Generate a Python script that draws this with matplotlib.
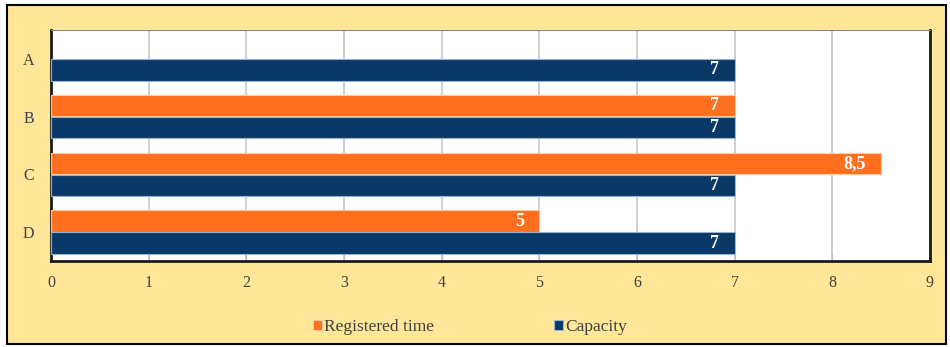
import numpy as np
import matplotlib.pyplot as plt
from matplotlib.patches import Rectangle

categories = ['A', 'B', 'C', 'D']
registered_time = [None, 7, 8.5, 5]
capacity = [7, 7, 7, 7]
x_ticks = list(range(0, 10))

ORANGE = '#FF6F1E'
NAVY = '#0A3967'
BG = '#FFE699'

plt.rcParams['font.family'] = ['Liberation Serif', 'DejaVu Serif']

fig = plt.figure(figsize=(9.5, 3.47), dpi=100)
fig.patch.set_facecolor('white')
# рамка и жёлтый фон
fig.patches.append(Rectangle((7 / 950, 3 / 347), 939 / 950, 339 / 347,
                             transform=fig.transFigure, facecolor=BG,
                             edgecolor='black', linewidth=1.5, zorder=-10))

ax = fig.add_axes([51 / 950, 1 - 261 / 347, 879 / 950, 231 / 347])
ax.set_zorder(5)
ax.set_facecolor('white')

y = np.arange(len(categories))
h = 0.37
off = 0.19

reg_y = [yy - off for yy, v in zip(y, registered_time) if v is not None]
reg_v = [v for v in registered_time if v is not None]
bars_r = ax.barh(reg_y, reg_v, height=h, color=ORANGE, edgecolor='#FFC8A0',
                 linewidth=0.8, label='Registered time', zorder=3)
bars_c = ax.barh(y + off, capacity, height=h, color=NAVY, edgecolor='#9DB3CC',
                 linewidth=0.8, label='Capacity', zorder=3)

def fmt(v):
    s = f'{v:g}'
    return s.replace('.', ',')

for yy, v in zip(reg_y, reg_v):
    ax.annotate(fmt(v), (v, yy), xytext=(-11, 0), textcoords='offset points',
                ha='right', va='center', color='white', fontweight='bold',
                fontsize=13)
for yy, v in zip(y + off, capacity):
    ax.annotate(fmt(v), (v, yy), xytext=(-11, 0), textcoords='offset points',
                ha='right', va='center', color='white', fontweight='bold',
                fontsize=13)

ax.set_xlim(0, 9)
ax.set_ylim(3.5, -0.5)
ax.set_xticks(x_ticks)
ax.set_yticks(y)
ax.set_yticklabels(categories)
ax.grid(axis='x', color='#C8C8C8', linewidth=1.2, zorder=0)
ax.tick_params(axis='x', direction='in', length=5, color='#BBBBBB',
               labelsize=11.5, labelcolor='#404040', pad=10)
ax.tick_params(axis='y', length=0, labelsize=11.5, labelcolor='#404040', pad=12)

for side in ['left', 'bottom', 'right']:
    ax.spines[side].set_color('#1A1A1A')
    ax.spines[side].set_linewidth(2)
ax.spines['top'].set_color('#888888')
ax.spines['top'].set_linewidth(0.8)

fig.legend(handles=[bars_r, bars_c], labels=['Registered time', 'Capacity'],
           loc='center', bbox_to_anchor=(470 / 950, 1 - 327 / 347), ncol=2,
           frameon=False, fontsize=12.5, handlelength=0.5, handleheight=0.5,
           handletextpad=0.15, columnspacing=6.9, labelcolor='#404040')

fig.savefig('out.png', dpi=100, facecolor=fig.get_facecolor())
